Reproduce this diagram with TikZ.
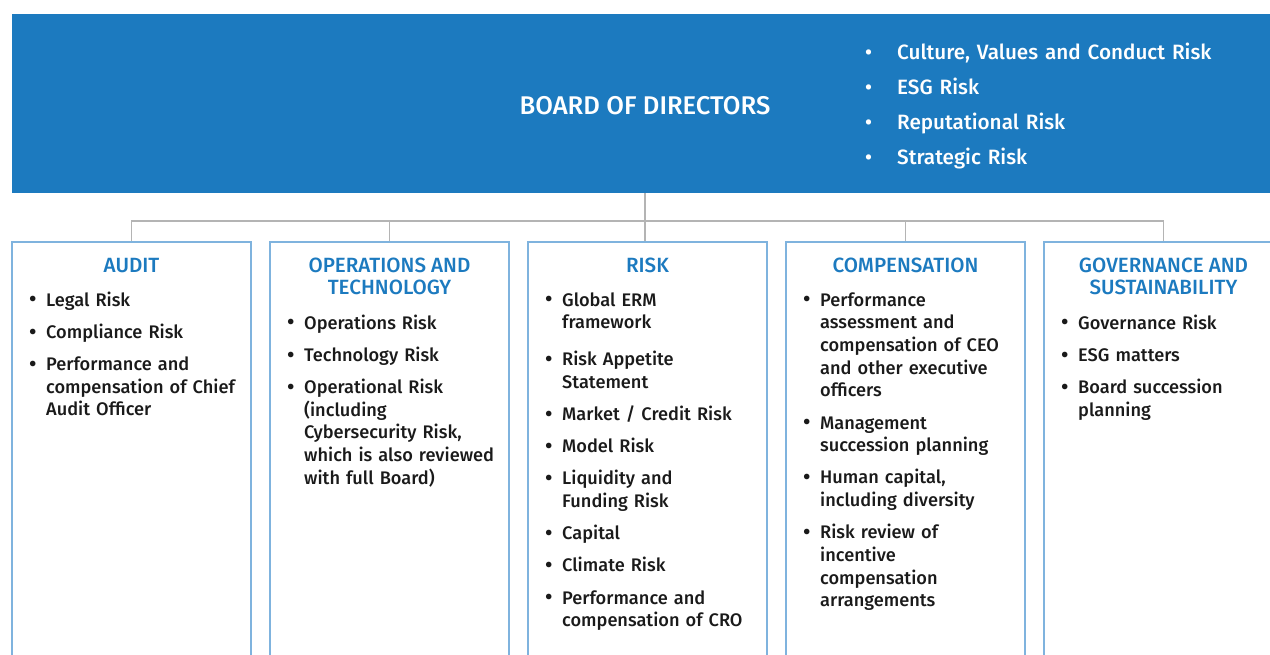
\documentclass[tikz,border=0pt]{standalone}
\usepackage{fontspec}
\setmainfont{Fira Sans}[UprightFont=* Medium, BoldFont=* SemiBold]
\usetikzlibrary{positioning}

\definecolor{boardblue}{HTML}{1C7ABF}
\definecolor{panelblue}{HTML}{7FB3DE}
\definecolor{linkgray}{HTML}{B4B4B4}
\definecolor{itemblack}{HTML}{1A1A1A}

\newcommand{\bitem}[1]{\makebox[17pt][l]{\raisebox{-0.8pt}{\fontsize{22}{22}\selectfont\textbullet}}\parbox[t]{200pt}{#1\strut}\par\prevdepth=0.3\baselineskip}

\tikzset{
    board/.style={fill=boardblue, anchor=north west, minimum width=1270pt, minimum height=179pt, inner sep=0pt},
    panel/.style={draw=panelblue, line width=2pt, anchor=north west, minimum width=239pt, minimum height=440pt, inner sep=0pt},
    panelhead/.style={anchor=base, align=center, text=boardblue, font=\fontsize{20.6}{22}\selectfont},
    itemlist/.style={anchor=base west, text width=220pt, align=left, inner sep=0pt, text=itemblack,
        font=\fontsize{18.2}{22.7}\selectfont\setlength{\parskip}{9.5pt}\setlength{\parindent}{0pt}},
    link/.style={draw=linkgray, line width=1.5pt},
}

\begin{document}
\begin{tikzpicture}[x=1pt, y=-1pt]
    \useasboundingbox (0,0) rectangle (1270,654);

    \node[board] (board) at (12,14) {};
    \node[anchor=base, text=white, font=\fontsize{25.6}{28}\selectfont] (title) at (645,114.5) {BOARD OF DIRECTORS};
    \node[anchor=base west, text width=380pt, align=left, inner sep=0pt, text=white, font=\fontsize{20.7}{35}\selectfont] (board-list) at (865,59)
        {\makebox[32pt][l]{\textbullet}Culture, Values and Conduct Risk\\
         \makebox[32pt][l]{\textbullet}ESG Risk\\
         \makebox[32pt][l]{\textbullet}Reputational Risk\\
         \makebox[32pt][l]{\textbullet}Strategic Risk};

    \node[panel] (audit) at (11,241) {};
    \node[panel] (ops) at (269,241) {};
    \node[panel] (risk) at (527,241) {};
    \node[panel] (comp) at (785,241) {};
    \node[panel] (gov) at (1043,241) {};

    \coordinate (bus) at (645,221);
    \draw[link] (board.south -| bus) -- (risk.north -| bus);
    \draw[link] (audit.north) |- (bus) -| (gov.north);
    \foreach \b in {ops,comp}
        \draw[link] (\b.north) -- (\b.north |- bus);

    \node[panelhead] (audit-h) at (audit.north |- 0,272.5) {AUDIT};
    \node[panelhead] (ops-h) at (ops.north |- 0,294.5) {OPERATIONS AND\\TECHNOLOGY};
    \node[panelhead] (risk-h) at (risk.north |- 0,272.5) {RISK};
    \node[panelhead] (comp-h) at (comp.north |- 0,272.5) {COMPENSATION};
    \node[panelhead] (gov-h) at (gov.north |- 0,294.5) {GOVERNANCE AND\\SUSTAINABILITY};

    \node[itemlist] (audit-list) at (29,306) {%
        \bitem{Legal Risk}
        \bitem{Compliance Risk}
        \bitem{Performance and\\compensation of Chief\\Audit Officer}};
    \node[itemlist] (ops-list) at (287,329) {%
        \bitem{Operations Risk}
        \bitem{Technology Risk}
        \bitem{Operational Risk\\(including\\Cybersecurity Risk,\\which is also reviewed\\with full Board)}};
    \node[itemlist] (risk-list) at (545,306) {%
        \bitem{Global ERM\\framework}
        \vspace{4.5pt}
        \bitem{Risk Appetite\\Statement}
        \bitem{Market / Credit Risk}
        \bitem{Model Risk}
        \bitem{Liquidity and\\Funding Risk}
        \bitem{Capital}
        \bitem{Climate Risk}
        \bitem{Performance and\\compensation of CRO}};
    \node[itemlist] (comp-list) at (803,306) {%
        \bitem{Performance\\assessment and\\compensation of CEO\\and other executive\\officers}
        \bitem{Management\\succession planning}
        \bitem{Human capital,\\including diversity}
        \bitem{Risk review of\\incentive\\compensation\\arrangements}};
    \node[itemlist] (gov-list) at (1061,329) {%
        \bitem{Governance Risk}
        \bitem{ESG matters}
        \bitem{Board succession\\planning}};
\end{tikzpicture}
\end{document}
